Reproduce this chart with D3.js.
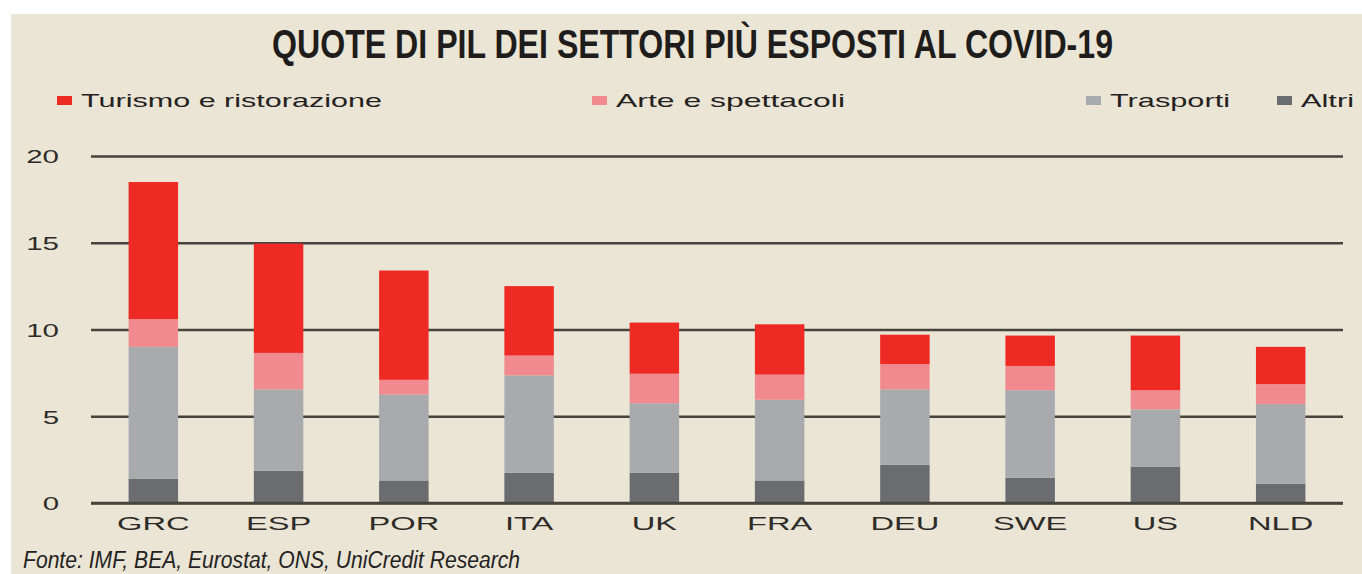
<!DOCTYPE html>
<html>
<head>
<meta charset="utf-8">
<script src="https://cdn.jsdelivr.net/npm/d3@7"></script>
<style>
  body { margin: 0; background: #fff; }
  svg { display: block; font-family: "Liberation Sans", Arial, sans-serif; }
  .title { font-weight: bold; fill: #1f1d1b; }
  .legend-label { fill: #24221f; font-size: 19px; }
  .tick text { fill: #2e2c29; font-size: 19px; }
  .source { font-style: italic; fill: #24221f; }
</style>
</head>
<body>
<div id="wrapper"></div>
<script>
// data
const countries = ["GRC", "ESP", "POR", "ITA", "UK", "FRA", "DEU", "SWE", "US", "NLD"]
const seriesNames = ["Altri", "Trasporti", "Arte e spettacoli", "Turismo e ristorazione"]
const altri     = [1.4, 1.85, 1.3, 1.75, 1.75, 1.3, 2.2, 1.45, 2.1, 1.1]
const trasporti = [7.6, 4.7, 4.95, 5.6, 4.0, 4.65, 4.35, 5.05, 3.3, 4.6]
const arte      = [1.6, 2.1, 0.85, 1.15, 1.7, 1.45, 1.45, 1.4, 1.1, 1.15]
const turismo   = [7.9, 6.3, 6.3, 4.0, 2.95, 2.9, 1.7, 1.75, 3.15, 2.15]
const yTicks = [0, 5, 10, 15, 20]

async function drawChart() {

    // 1. Build table

    const dataset = countries.map((c, i) => ({
        country: c,
        "Altri": altri[i],
        "Trasporti": trasporti[i],
        "Arte e spettacoli": arte[i],
        "Turismo e ristorazione": turismo[i],
    }))
    const stacked = d3.stack().keys(seriesNames)(dataset)

    // 2. Dimensions

    const dimensions = {
        width: 1362,
        height: 574,
        margin: { top: 156, right: 19, bottom: 71, left: 91 },
    }
    dimensions.boundedWidth = dimensions.width - dimensions.margin.left - dimensions.margin.right
    dimensions.boundedHeight = dimensions.height - dimensions.margin.top - dimensions.margin.bottom

    // 3. Canvas

    const wrapper = d3.select("#wrapper")
        .append("svg")
        .attr("width", dimensions.width)
        .attr("height", dimensions.height)

    wrapper.append("rect")
        .attr("x", 11)
        .attr("y", 14)
        .attr("width", dimensions.width - 11)
        .attr("height", dimensions.height - 14)
        .attr("fill", "#ebe5d5")

    const bounds = wrapper.append("g")
        .attr("transform", `translate(${dimensions.margin.left},${dimensions.margin.top})`)

    // 4. Scales

    const xScale = d3.scaleBand()
        .domain(countries)
        .range([0, dimensions.boundedWidth])
        .paddingInner(0.605)
        .paddingOuter(0.3)

    const yScale = d3.scaleLinear()
        .domain([0, 20])
        .range([dimensions.boundedHeight, 0])

    const colorScale = d3.scaleOrdinal()
        .domain(seriesNames)
        .range(["#6b6c70", "#a9aaae", "#f08a8f", "#ee2a24"])

    // 5. Grid + bars

    const yAxis = d3.axisLeft(yScale)
        .tickValues(yTicks)
        .tickSize(-dimensions.boundedWidth)
        .tickFormat(d3.format("d"))
    const yAxisGroup = bounds.append("g").call(yAxis)
    yAxisGroup.select(".domain").remove()
    yAxisGroup.selectAll(".tick line")
        .attr("stroke", "#47433d")
        .attr("stroke-width", 2.4)
    yAxisGroup.selectAll(".tick text")
        .attr("x", -32 / 1.55)
        .attr("dy", "0.36em")
        .attr("transform", "scale(1.55,1)")

    bounds.append("g")
        .selectAll("g")
        .data(stacked)
        .join("g")
        .attr("fill", d => colorScale(d.key))
        .selectAll("rect")
        .data(d => d)
        .join("rect")
        .attr("x", d => xScale(d.data.country))
        .attr("width", xScale.bandwidth())
        .attr("y", d => yScale(d[1]))
        .attr("height", d => yScale(d[0]) - yScale(d[1]))

    // zero line on top of bars
    bounds.append("line")
        .attr("x1", 0)
        .attr("x2", dimensions.boundedWidth)
        .attr("y1", yScale(0))
        .attr("y2", yScale(0))
        .attr("stroke", "#47433d")
        .attr("stroke-width", 2.4)

    const xAxis = d3.axisBottom(xScale).tickSize(0).tickPadding(14)
    const xAxisGroup = bounds.append("g")
        .attr("transform", `translate(0,${dimensions.boundedHeight})`)
        .call(xAxis)
    xAxisGroup.select(".domain").remove()
    xAxisGroup.selectAll(".tick text")
        .attr("font-size", 20)
        .attr("transform", "scale(1.72,1)")
        .attr("dy", "0.71em")

    // 6. Peripherals

    wrapper.append("text")
        .attr("class", "title")
        .attr("x", 272)
        .attr("y", 58)
        .attr("font-size", 41)
        .attr("textLength", 841)
        .attr("lengthAdjust", "spacingAndGlyphs")
        .text("QUOTE DI PIL DEI SETTORI PIÙ ESPOSTI AL COVID-19")

    const legendItems = [
        { key: "Turismo e ristorazione", x: 57, w: 301 },
        { key: "Arte e spettacoli", x: 592, w: 229 },
        { key: "Trasporti", x: 1086, w: 120 },
        { key: "Altri", x: 1277, w: 53 },
    ]
    const legend = wrapper.append("g")
        .selectAll("g")
        .data(legendItems)
        .join("g")
        .attr("transform", d => `translate(${d.x},0)`)
    legend.append("rect")
        .attr("y", 96)
        .attr("width", 15)
        .attr("height", 9)
        .attr("fill", d => colorScale(d.key))
    legend.append("text")
        .attr("class", "legend-label")
        .attr("x", 24)
        .attr("y", 107)
        .attr("textLength", d => d.w)
        .attr("lengthAdjust", "spacingAndGlyphs")
        .text(d => d.key)

    wrapper.append("text")
        .attr("class", "source")
        .attr("x", 23)
        .attr("y", 568)
        .attr("font-size", 23)
        .attr("textLength", 497)
        .attr("lengthAdjust", "spacingAndGlyphs")
        .text("Fonte: IMF, BEA, Eurostat, ONS, UniCredit Research")
}

drawChart()
</script>
</body>
</html>
